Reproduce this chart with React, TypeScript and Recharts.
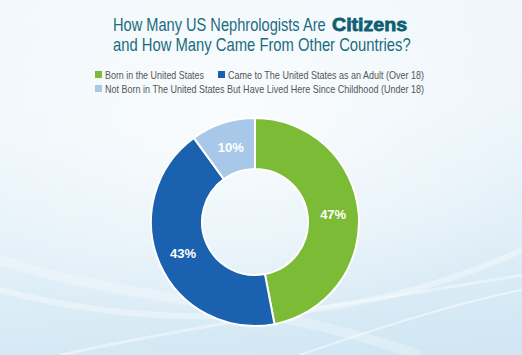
import React from "react";
import { PieChart, Pie, Cell } from "recharts";

const categories = [
  "Born in the United States",
  "Came to The United States as an Adult (Over 18)",
  "Not Born in The United States But Have Lived Here Since Childhood (Under 18)",
];
const shares = [47, 43, 10];
const colors = ["#7cbb36", "#1a62b0", "#a7c8e8"];
const titleLine1 = "How Many US Nephrologists Are";
const titleEmph = "Citizens";
const titleLine2 = "and How Many Came From Other Countries?";

const data = categories.map((name, i) => ({ name, value: shares[i] }));

const RAD = Math.PI / 180;
const font = "Liberation Sans, Arial, sans-serif";

const renderLabel = (props: any) => {
  const { cx, cy, midAngle, innerRadius, outerRadius, value } = props;
  const r = (innerRadius + outerRadius) / 2;
  const x = cx + r * Math.cos(-midAngle * RAD);
  const y = cy + r * Math.sin(-midAngle * RAD);
  return (
    <text
      x={x}
      y={y}
      fill="#ffffff"
      textAnchor="middle"
      dominantBaseline="central"
      fontFamily={font}
      fontSize={13}
      fontWeight={700}
    >
      {value}%
    </text>
  );
};

export default function App() {
  return (
    <div
      style={{
        position: "absolute",
        left: 0,
        top: 0,
        width: 522,
        height: 355,
        overflow: "hidden",
        background:
          "linear-gradient(175deg, #f1f8fc 0%, #eef6fb 35%, #e2f0f8 65%, #cfe6f3 100%)",
      }}
    >
      <svg width={522} height={355} style={{ position: "absolute", left: 0, top: 0 }}>
        <defs>
          <radialGradient id="glow" cx="0.45" cy="0.35" r="0.6">
            <stop offset="0%" stopColor="#ffffff" stopOpacity={0.7} />
            <stop offset="100%" stopColor="#ffffff" stopOpacity={0} />
          </radialGradient>
        </defs>
        <rect x={0} y={0} width={522} height={355} fill="url(#glow)" />
        <path d="M0,290 C150,330 350,330 522,250" stroke="#ffffff" strokeOpacity={0.35} strokeWidth={6} fill="none" />
        <path d="M60,355 C220,320 380,300 522,275" stroke="#ffffff" strokeOpacity={0.4} strokeWidth={3} fill="none" />
        <path d="M0,260 C120,300 260,300 420,355" stroke="#ffffff" strokeOpacity={0.25} strokeWidth={10} fill="none" />
        <path d="M300,355 C400,320 470,300 522,290" stroke="#ffffff" strokeOpacity={0.5} strokeWidth={2} fill="none" />
      </svg>
      <svg width={522} height={355} style={{ position: "absolute", left: 0, top: 0 }}>
        <text transform="translate(113,31) scale(0.79,1)" x={0} y={0} fontFamily={font} fontSize={18.5} fill="#1b6b80">
          {titleLine1}
        </text>
        <text transform="translate(332,31) scale(1.06,1)" x={0} y={0} fontFamily={font} fontSize={18.5} fontWeight={900} fill="#0f5f73" stroke="#0f5f73" strokeWidth={0.8}>
          {titleEmph}
        </text>
        <text transform="translate(113,51) scale(0.8,1)" x={0} y={0} fontFamily={font} fontSize={18.5} fill="#1b6b80">
          {titleLine2}
        </text>

        <rect x={95} y={71} width={7} height={7} fill={colors[0]} />
        <text x={105} y={78.5} fontFamily={font} fontSize={11} fill="#555555" textLength={99} lengthAdjust="spacingAndGlyphs">
          {categories[0]}
        </text>
        <rect x={218} y={71} width={7} height={7} fill={colors[1]} />
        <text x={228} y={78.5} fontFamily={font} fontSize={11} fill="#555555" textLength={196} lengthAdjust="spacingAndGlyphs">
          {categories[1]}
        </text>
        <rect x={95} y={85} width={7} height={7} fill={colors[2]} />
        <text x={105} y={92.5} fontFamily={font} fontSize={11} fill="#555555" textLength={319} lengthAdjust="spacingAndGlyphs">
          {categories[2]}
        </text>
      </svg>
      <div style={{ position: "absolute", left: 0, top: 0 }}>
        <PieChart width={522} height={355} margin={{ top: 0, right: 0, bottom: 0, left: 0 }}>
          <Pie
            data={data}
            dataKey="value"
            nameKey="name"
            cx={255}
            cy={222}
            innerRadius={53}
            outerRadius={104}
            startAngle={90}
            endAngle={-270}
            stroke="#ffffff"
            strokeWidth={2}
            label={renderLabel}
            labelLine={false}
            isAnimationActive={false}
          >
            {data.map((d, i) => (
              <Cell key={d.name} fill={colors[i]} />
            ))}
          </Pie>
        </PieChart>
      </div>
    </div>
  );
}
